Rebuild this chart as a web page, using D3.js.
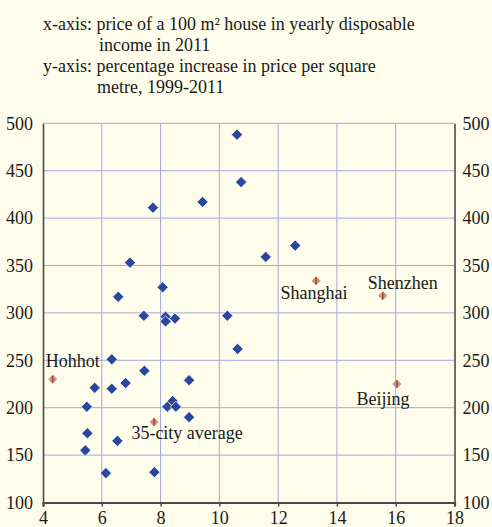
<!DOCTYPE html>
<html>
<head>
<meta charset="utf-8">
<script src="https://cdn.jsdelivr.net/npm/d3@7"></script>
<style>
  html, body { margin: 0; padding: 0; background: #FEFDEB; }
  svg { display: block; }
  text { font-family: "Liberation Serif", "Times New Roman", serif; fill: #1a1a1a; }
</style>
</head>
<body>
<svg id="chart" width="492" height="527"></svg>
<script>
// ---- data ----
const cityX = [10.60, 10.74, 7.74, 9.43, 6.96, 8.07, 6.56, 11.58, 12.58,
               7.43, 8.17, 8.17, 8.49, 10.27, 10.62, 6.34, 7.45, 6.81, 8.97,
               5.76, 6.34, 5.49, 8.41, 8.23, 8.52, 8.97, 5.51, 6.53, 5.44, 6.14, 7.79];
const cityY = [488, 438, 411, 417, 353, 327, 317, 359, 371,
               297, 296, 291, 294, 297, 262, 251, 239, 226, 229,
               221, 220, 201, 207, 201, 201, 190, 173, 165, 155, 131, 132];
const labelNames = ["Hohhot", "35-city average", "Shanghai", "Shenzhen", "Beijing"];
const labelX = [4.33, 7.78, 13.29, 15.56, 16.04];
const labelY = [230, 185, 334, 318, 225];
const xTicks = [4, 6, 8, 10, 12, 14, 16, 18];
const yTicks = [100, 150, 200, 250, 300, 350, 400, 450, 500];
const titleLines = [
  "x-axis: price of a 100 m\u00B2 house in yearly disposable",
  "income in 2011",
  "y-axis: percentage increase in price per square",
  "metre, 1999-2011"
];

// ---- layout ----
const plot = { left: 43, right: 454.5, top: 123.3, bottom: 502.5 };
const labelOffsets = [[20, -12], [33, 17], [-2, 18], [20, -7], [-14, 21]];
const titleIndent = [43, 99, 43, 97];
const titleBase = [30, 51, 72, 93];
const fontSize = 18;

const svg = d3.select("#chart");
svg.append("rect").attr("width", 492).attr("height", 527).attr("fill", "#FEFDEB");

const x = d3.scaleLinear().domain([4, 18]).range([plot.left, plot.right]);
const y = d3.scaleLinear().domain([100, 500]).range([plot.bottom, plot.top]);

// title
svg.append("g").selectAll("text").data(titleLines).join("text")
  .attr("x", (d, i) => titleIndent[i])
  .attr("y", (d, i) => titleBase[i])
  .attr("font-size", 18)
  .text(d => d);

// grid
const grid = svg.append("g").attr("stroke", "#A3A8DC").attr("stroke-width", 1);
grid.selectAll("line.h").data(yTicks.filter(v => v > 100)).join("line")
  .attr("x1", plot.left).attr("x2", plot.right)
  .attr("y1", d => y(d)).attr("y2", d => y(d));
grid.selectAll("line.v").data(xTicks.filter(v => v > 4 && v < 18)).join("line")
  .attr("class", "v")
  .attr("y1", plot.top).attr("y2", plot.bottom)
  .attr("x1", d => x(d)).attr("x2", d => x(d));

// axes
const axisColor = "#4a4a4a";
const leftAxis = d3.axisLeft(y).tickValues(yTicks).tickSize(0).tickPadding(10);
const rightAxis = d3.axisRight(y).tickValues(yTicks).tickSize(0).tickPadding(8);
const bottomAxis = d3.axisBottom(x).tickValues(xTicks).tickSize(4).tickPadding(5);

const gL = svg.append("g").attr("transform", `translate(${plot.left},0)`).call(leftAxis);
const gR = svg.append("g").attr("transform", `translate(${plot.right},0)`).call(rightAxis);
const gB = svg.append("g").attr("transform", `translate(0,${plot.bottom})`).call(bottomAxis);
[gL, gR, gB].forEach(g => {
  g.select(".domain").attr("stroke", axisColor).attr("stroke-width", 1.6);
  g.selectAll(".tick line").attr("stroke", axisColor).attr("stroke-width", 1.5);
  g.selectAll("text").attr("font-size", fontSize).attr("fill", "#1a1a1a")
    .attr("font-family", "Liberation Serif, serif");
});
gB.select(".domain").attr("stroke-width", 2.2);

// blue diamonds
const diamond = d3.symbol().type(d3.symbolDiamond2).size(80);
svg.append("g").selectAll("path").data(cityX.map((v, i) => [v, cityY[i]])).join("path")
  .attr("d", diamond)
  .attr("transform", d => `translate(${x(d[0])},${y(d[1])})`)
  .attr("fill", "#2B479D")
  .attr("stroke", "#ffffff").attr("stroke-width", 0.7);

// highlighted cities
const hl = svg.append("g").selectAll("g").data(labelNames.map((n, i) => ({ n, v: labelX[i], w: labelY[i], o: labelOffsets[i] }))).join("g")
  .attr("transform", d => `translate(${x(d.v)},${y(d.w)})`);
hl.append("path")
  .attr("d", d3.symbol().type(d3.symbolDiamond2).size(52))
  .attr("fill", "#C99383");
hl.append("line")
  .attr("x1", 0).attr("x2", 0).attr("y1", -3.5).attr("y2", 3.5)
  .attr("stroke", "#A2483C").attr("stroke-width", 1.6);
hl.append("text")
  .attr("x", d => d.o[0]).attr("y", d => d.o[1])
  .attr("text-anchor", "middle")
  .attr("font-size", fontSize)
  .text(d => d.n);
</script>
</body>
</html>
